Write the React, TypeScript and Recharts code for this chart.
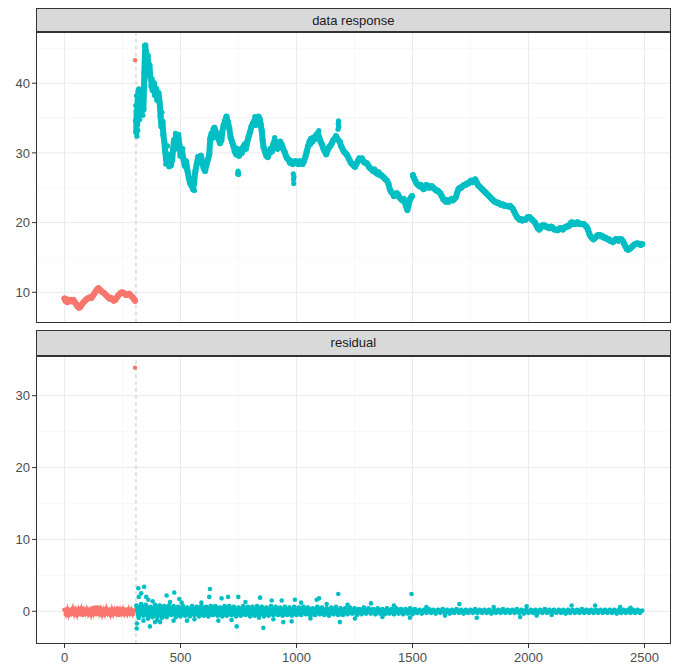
import React from 'react';
import { ComposedChart, Line, Scatter, XAxis, YAxis, ReferenceLine } from 'recharts';

const RED = '#F8766D';
const TEAL = '#00BFC4';

const panelTitles = ['data response', 'residual'];
const xTicks = [0, 500, 1000, 1500, 2000, 2500];
const xMinor = [250, 750, 1250, 1750, 2250];
const xDomain = [-123, 2613];
const topTicks = [10, 20, 30, 40];
const topMinor = [15, 25, 35, 45];
const topDomain = [5.64, 47.3];
const resTicks = [0, 10, 20, 30];
const resMinor = [5, 15, 25, 35];
const resDomain = [-4.55, 35.56];
const changePoint = 308;

// data response, pre-change (red)
const redResponse: [number, number][] = [
  [0, 9.1], [4, 8.8], [8, 9.0], [12, 8.6], [16, 8.9], [20, 8.7], [26, 8.9], [32, 8.7], [38, 8.9], [44, 8.6],
  [50, 8.3], [56, 8.0], [62, 7.8], [68, 7.9], [74, 8.2], [80, 8.5], [86, 8.7], [92, 8.9], [98, 9.1], [104, 9.2],
  [110, 9.3], [116, 9.2], [122, 9.5], [128, 9.8], [134, 10.1], [140, 10.4], [146, 10.6], [152, 10.4], [158, 10.2], [164, 10.0],
  [170, 9.9], [176, 9.7], [182, 9.5], [188, 9.3], [194, 9.1], [200, 9.2], [206, 9.0], [212, 8.8], [218, 8.9], [224, 9.2],
  [230, 9.5], [236, 9.7], [242, 9.9], [248, 10.0], [254, 9.9], [260, 9.8], [266, 9.6], [272, 9.7], [278, 9.8], [284, 9.6],
  [290, 9.4], [296, 9.2], [300, 9.0], [304, 8.8],
];
const redOutlierResponse: [number, number][] = [[304, 43.3]];
const redOutlierResidual: [number, number][] = [[304, 33.9]];

// data response, post-change (teal); null marks the jump at 1500
const tealResponse: [number, number | null][] = [
  [309, 33.0], [311, 36.0], [313, 34.0], [315, 37.5], [317, 35.0], [319, 38.8], [322, 36.5], [325, 38.5], [328, 35.8], [332, 37.0],
  [336, 38.6], [340, 36.2], [344, 41.5], [348, 45.4], [351, 43.8], [355, 42.5], [358, 44.0], [362, 41.8], [366, 42.6], [370, 40.8],
  [375, 40.2], [380, 39.0], [385, 40.0], [390, 38.3], [395, 39.2], [400, 37.6], [405, 38.6], [410, 37.2], [414, 35.2], [418, 33.8],
  [422, 34.5], [426, 32.6], [430, 31.6], [434, 30.2], [438, 29.0], [442, 29.8], [446, 28.4], [452, 29.3], [458, 28.2], [464, 29.0],
  [468, 30.5], [472, 31.8], [476, 30.6], [480, 32.2], [485, 31.0], [490, 32.6], [495, 31.2], [500, 29.6], [506, 30.4], [512, 29.2],
  [518, 28.2], [524, 28.8], [530, 27.4], [536, 26.4], [542, 25.6], [548, 26.2], [554, 24.8], [558, 25.6], [564, 27.4], [570, 28.4],
  [576, 29.4], [582, 28.8], [588, 29.6], [594, 28.6], [600, 27.8], [606, 27.4], [612, 28.4], [618, 29.0], [624, 29.8], [628, 32.0],
  [634, 32.8], [640, 32.2], [646, 33.6], [652, 33.0], [658, 32.4], [664, 32.0], [670, 31.4], [676, 31.8], [680, 33.0], [686, 34.0],
  [692, 34.6], [698, 35.2], [704, 34.4], [710, 33.6], [716, 32.2], [722, 31.6], [728, 31.0], [734, 30.2], [740, 29.8], [744, 30.6],
  [752, 29.6], [758, 30.4], [764, 30.0], [770, 30.8], [776, 31.2], [782, 30.6], [788, 31.6], [794, 32.4], [800, 33.0], [806, 33.8],
  [812, 34.2], [818, 34.6], [824, 34.0], [830, 35.0], [836, 35.2], [842, 34.8], [846, 34.0], [850, 33.2], [854, 31.8], [858, 30.8],
  [864, 30.2], [870, 29.6], [876, 29.4], [882, 30.0], [888, 30.6], [894, 30.2], [900, 31.2], [906, 31.8], [912, 31.0], [918, 30.6],
  [924, 31.2], [930, 31.6], [936, 31.2], [942, 30.6], [948, 30.2], [954, 29.6], [960, 29.2], [966, 29.0], [972, 28.6], [978, 28.8],
  [984, 28.4], [990, 28.6], [996, 28.8], [1002, 28.6], [1008, 28.4], [1014, 28.8], [1020, 28.6], [1026, 28.4], [1032, 28.8], [1038, 29.4],
  [1044, 30.2], [1050, 31.0], [1056, 31.6], [1062, 32.0], [1068, 31.6], [1074, 32.2], [1080, 32.0], [1086, 32.6], [1092, 32.8], [1098, 32.2],
  [1104, 31.6], [1110, 31.2], [1116, 30.6], [1122, 30.2], [1128, 29.8], [1134, 30.4], [1140, 30.8], [1146, 31.0], [1152, 31.4], [1158, 31.8],
  [1164, 32.0], [1170, 32.4], [1176, 32.0], [1186, 31.6], [1192, 31.0], [1198, 30.6], [1204, 30.2], [1210, 30.0], [1216, 29.8], [1222, 29.4],
  [1228, 29.0], [1234, 28.6], [1240, 28.4], [1246, 28.2], [1252, 28.0], [1258, 28.4], [1264, 28.8], [1270, 29.2], [1276, 29.0], [1282, 29.2],
  [1288, 28.8], [1294, 28.6], [1300, 28.6], [1306, 28.4], [1312, 28.0], [1318, 27.8], [1324, 27.6], [1330, 27.4], [1336, 27.6], [1342, 27.2],
  [1348, 27.0], [1354, 27.2], [1360, 26.8], [1366, 26.8], [1372, 26.6], [1378, 26.4], [1384, 26.2], [1390, 26.0], [1396, 25.6], [1402, 24.8],
  [1408, 24.4], [1414, 24.2], [1420, 23.8], [1426, 23.9], [1432, 24.2], [1438, 24.0], [1444, 23.6], [1450, 23.4], [1456, 23.2], [1462, 23.4],
  [1468, 22.8], [1474, 22.2], [1478, 21.8], [1482, 22.4], [1486, 23.0], [1490, 23.4], [1494, 23.6], [1498, 23.8], [1500, null],
  [1502, 26.8], [1506, 26.4], [1512, 26.0], [1518, 25.6], [1524, 25.4], [1530, 25.2], [1536, 25.4], [1542, 25.0], [1548, 24.8], [1554, 25.0],
  [1560, 25.4], [1566, 25.2], [1572, 25.0], [1578, 25.2], [1584, 25.2], [1590, 25.0], [1596, 24.8], [1602, 24.6], [1608, 24.6], [1614, 24.4],
  [1620, 24.2], [1626, 23.8], [1632, 23.4], [1638, 23.2], [1644, 23.0], [1650, 23.2], [1656, 23.0], [1662, 23.2], [1668, 23.4], [1674, 23.2],
  [1680, 23.4], [1686, 23.6], [1692, 24.2], [1698, 24.8], [1704, 25.0], [1710, 25.0], [1716, 25.2], [1722, 25.4], [1728, 25.4], [1734, 25.6],
  [1740, 25.6], [1746, 25.8], [1752, 26.0], [1758, 25.8], [1764, 26.0], [1770, 26.2], [1776, 25.8], [1782, 25.4], [1788, 25.2], [1794, 25.0],
  [1800, 24.8], [1806, 24.6], [1812, 24.4], [1818, 24.2], [1824, 24.0], [1830, 23.8], [1836, 23.6], [1842, 23.4], [1848, 23.2], [1854, 23.0],
  [1860, 23.0], [1866, 22.8], [1872, 22.8], [1878, 22.6], [1884, 22.6], [1890, 22.6], [1896, 22.4], [1902, 22.4], [1908, 22.4], [1914, 22.3],
  [1920, 22.4], [1926, 22.2], [1932, 22.0], [1938, 21.6], [1944, 21.2], [1950, 20.8], [1956, 20.6], [1962, 20.4], [1968, 20.5], [1974, 20.3],
  [1980, 20.4], [1986, 20.4], [1992, 20.6], [1998, 20.8], [2004, 20.8], [2010, 20.6], [2016, 20.4], [2022, 20.2], [2028, 20.0], [2034, 19.6],
  [2040, 19.2], [2046, 19.0], [2052, 19.2], [2058, 19.6], [2064, 19.6], [2070, 19.6], [2076, 19.4], [2082, 19.4], [2088, 19.2], [2094, 19.4],
  [2100, 19.4], [2106, 19.2], [2112, 19.0], [2118, 19.0], [2124, 18.9], [2130, 19.0], [2136, 19.2], [2142, 19.2], [2148, 19.0], [2154, 19.2],
  [2160, 19.4], [2166, 19.4], [2172, 19.6], [2178, 19.6], [2184, 20.0], [2190, 20.0], [2196, 19.8], [2202, 19.8], [2208, 20.0], [2214, 20.0],
  [2220, 19.8], [2226, 19.8], [2232, 19.8], [2238, 19.8], [2244, 19.6], [2250, 19.4], [2256, 19.0], [2262, 18.4], [2268, 18.0], [2274, 17.8],
  [2280, 17.6], [2286, 17.8], [2292, 18.0], [2298, 18.2], [2304, 18.2], [2310, 18.2], [2316, 18.0], [2322, 18.0], [2328, 17.8], [2334, 17.8],
  [2340, 17.6], [2346, 17.6], [2352, 17.4], [2358, 17.4], [2364, 17.2], [2370, 17.4], [2376, 17.6], [2382, 17.6], [2388, 17.4], [2394, 17.6],
  [2400, 17.6], [2406, 17.4], [2412, 17.0], [2418, 16.6], [2424, 16.2], [2430, 16.1], [2436, 16.2], [2442, 16.4], [2448, 16.6], [2454, 16.8],
  [2460, 16.9], [2466, 17.0], [2472, 17.0], [2478, 16.9], [2484, 16.8], [2490, 16.9],
];
// isolated clusters and spread points off the main path
const tealResponseExtra: [number, number][] = [
  [746, 27.0], [748, 27.4], [750, 26.9], [749, 27.2],
  [986, 27.0], [987, 26.2], [988, 25.6], [989, 26.6],
  [1179, 33.4], [1180, 34.2], [1181, 34.6], [1182, 33.8],
  [306, 34.6], [307, 36.8], [310, 38.2], [312, 32.4], [314, 35.6], [316, 33.2], [318, 36.6], [320, 39.2], [324, 34.8],
  [330, 39.0], [334, 36.0], [338, 35.4], [342, 38.0], [346, 43.2], [353, 44.6], [360, 43.2], [368, 41.6], [372, 39.6],
  [378, 40.6], [388, 39.6], [398, 38.2], [408, 38.0], [420, 35.8], [436, 28.4], [444, 31.0], [450, 28.0],
  [478, 32.8], [492, 31.8], [510, 30.6], [520, 28.0], [546, 25.2], [560, 24.6], [640, 33.4], [700, 34.6], [820, 35.2],
  [906, 32.2], [1060, 31.2], [1096, 33.2],
];

// residuals: red sampled every 6 from 0, teal every 10 from 310
const redResidualStart = 0;
const redResidualStep = 6;
const redResidual = [
  0.2, -0.4, 0.3, -0.5, 0.1, -0.3, 0.4, -0.4, 0.2, -0.5,
  0.3, -0.2, 0.4, -0.5, 0.2, -0.3, 0.3, -0.4, 0.1, -0.5,
  0.4, -0.3, 0.5, -0.4, 0.5, -0.3, 0.3, -0.5, 0.2, -0.4,
  0.4, -0.3, 0.1, -0.5, 0.3, -0.4, 0.2, -0.3, 0.4, -0.5,
  0.2, -0.3, 0.3, -0.4, 0.1, -0.4, 0.3, -0.3, 0.2, -0.4,
  0.1,
];
const tealResidualStart = 310;
const tealResidualStep = 10;
const tealResidual = [
  0.8, -0.9, 1.0, -0.6, 0.9, -1.0, 0.6, -0.8, 0.9, -0.7,
  0.8, -0.9, 0.7, -0.8, 0.8, -0.5, 0.7, -0.8, 0.6, -0.7,
  0.7, -0.6, 0.5, -0.7, 0.7, -0.5, 0.6, -0.7, 0.7, -0.6,
  0.6, -0.7, 0.7, -0.5, 0.7, -0.6, 0.5, -0.7, 0.7, -0.6,
  0.7, -0.5, 0.6, -0.7, 0.5, -0.6, 0.7, -0.5, 0.6, -0.7,
  0.6, -0.6, 0.7, -0.5, 0.6, -0.7, 0.5, -0.6, 0.7, -0.5,
  0.6, -0.5, 0.5, -0.6, 0.6, -0.5, 0.5, -0.6, 0.6, -0.5,
  0.5, -0.5, 0.6, -0.4, 0.5, -0.6, 0.4, -0.5, 0.6, -0.4,
  0.5, -0.5, 0.4, -0.6, 0.5, -0.4, 0.6, -0.5, 0.4, -0.5,
  0.4, -0.4, 0.5, -0.3, 0.4, -0.5, 0.3, -0.4, 0.5, -0.3,
  0.4, -0.3, 0.3, -0.4, 0.4, -0.3, 0.3, -0.4, 0.4, -0.3,
  0.3, -0.4, 0.4, -0.3, 0.3, -0.4, 0.3, -0.3, 0.4, -0.4,
  0.3, -0.2, 0.2, -0.3, 0.2, -0.2, 0.3, -0.2, 0.2, -0.3,
  0.2, -0.2, 0.3, -0.2, 0.2, -0.3, 0.2, -0.2, 0.3, -0.2,
  0.2, -0.3, 0.2, -0.2, 0.2, -0.2, 0.3, -0.2, 0.2, -0.2,
  0.2, -0.2, 0.2, -0.3, 0.2, -0.2, 0.2, -0.2, 0.3, -0.2,
  0.2, -0.2, 0.2, -0.2, 0.3, -0.2, 0.2, -0.3, 0.2, -0.2,
  0.2, -0.2, 0.2, -0.2, 0.2, -0.2, 0.3, -0.2, 0.2, -0.2,
  0.2, -0.2, 0.2, -0.2, 0.2, -0.3, 0.2, -0.2, 0.2, -0.2,
  0.2, -0.2, 0.3, -0.2, 0.2, -0.2, 0.2, -0.2, 0.2, -0.2,
  0.2, -0.2, 0.2, -0.2, 0.2, -0.2, 0.2, -0.3, 0.2, -0.2,
  0.2, -0.2, 0.2, -0.2, 0.2, -0.2, 0.2, -0.2, 0.1,
];
const tealResidualScatter: [number, number][] = [
  [318, 3.2], [343, 3.4], [320, 2.0], [330, 2.5], [352, 2.0], [361, 1.6], [311, -2.4], [312, -1.7], [368, -2.1], [340, -1.3],
  [390, -1.5], [440, 2.2], [473, 2.6], [495, 1.7], [412, -1.5], [470, -1.3], [528, -1.3], [627, 3.1], [624, 2.0], [663, -1.3],
  [677, 1.8], [705, 2.0], [742, -2.1], [749, 2.0], [843, 1.9], [857, -2.3], [893, 1.5], [936, 1.5], [943, -1.5], [979, -1.4],
  [993, 1.6], [1087, 1.6], [1097, 1.8], [1180, 2.4], [1187, -1.5], [1252, -1.0], [1321, 1.1], [1496, 2.4], [1489, -0.9], [838, -0.9],
  [1702, 1.0], [1777, -0.9], [1964, -0.8], [1992, 0.7], [2035, -0.6], [2186, 0.8], [2287, 0.8], [2395, 0.6],
  [380, 1.4], [400, -1.2], [455, 1.3], [505, 1.2], [560, -1.1], [590, 1.2], [720, -1.2], [780, 1.3], [900, -1.1], [1020, 1.2],
  [1060, -1.0], [1130, 1.0], [1220, 0.9], [1370, -0.8], [1420, 0.8], [1560, 0.6], [1640, -0.6], [1850, 0.6], [2100, -0.5], [2440, 0.5],
];

const toPts = (arr: [number, number | null][]) => arr.map(([x, y]) => ({ x, y }));
const fromSeries = (start: number, step: number, vals: number[]) => vals.map((y, i) => ({ x: start + i * step, y }));

const FONT = '"Liberation Sans", Arial, sans-serif';
const GRID_MAJOR = '#EBEBEB';
const GRID_MINOR = '#F3F3F3';

const dotShape = (color: string, r: number) => (props: any) =>
  props.cx == null || props.cy == null ? <g /> : <circle cx={props.cx} cy={props.cy} r={r} fill={color} />;

const PLOT_LEFT = 36;
const PLOT_RIGHT = 670.7;

function Strip({ top, height, label }: { top: number; height: number; label: string }) {
  return (
    <div
      style={{
        position: 'absolute', left: PLOT_LEFT, top, width: PLOT_RIGHT - PLOT_LEFT, height,
        background: '#D9D9D9', border: '1px solid #333333', boxSizing: 'border-box',
        display: 'flex', alignItems: 'center', justifyContent: 'center',
        fontFamily: FONT, fontSize: 13, color: '#1A1A1A',
      }}
    >
      {label}
    </div>
  );
}

function Border({ top, height }: { top: number; height: number }) {
  return (
    <div
      style={{
        position: 'absolute', left: PLOT_LEFT, top, width: PLOT_RIGHT - PLOT_LEFT, height,
        border: '1px solid #333333', boxSizing: 'border-box', pointerEvents: 'none',
      }}
    />
  );
}

function gridLines(major: number[], minor: number[], axis: 'x' | 'y') {
  const out: any[] = [];
  minor.forEach((v) =>
    out.push(<ReferenceLine key={axis + 'm' + v} {...{ [axis]: v }} stroke={GRID_MINOR} strokeWidth={0.6} />)
  );
  major.forEach((v) =>
    out.push(<ReferenceLine key={axis + 'M' + v} {...{ [axis]: v }} stroke={GRID_MAJOR} strokeWidth={1} />)
  );
  return out;
}

export default function App() {
  const tick = { fontFamily: FONT, fontSize: 13, fill: '#4D4D4D' };
  return (
    <div style={{ position: 'absolute', left: 0, top: 0, width: 676, height: 666, background: '#fff', overflow: 'hidden' }}>
      <div style={{ position: 'absolute', left: 0, top: 0 }}>
        <ComposedChart width={676} height={330} margin={{ top: 32.3, right: 676 - PLOT_RIGHT, bottom: 7.3, left: 0 }}>
          <XAxis type="number" dataKey="x" domain={xDomain} allowDataOverflow hide ticks={xTicks} />
          <YAxis
            type="number" domain={topDomain} allowDataOverflow ticks={topTicks} width={PLOT_LEFT}
            axisLine={false} tickSize={4} tickMargin={2} tickLine={{ stroke: '#333333' }} tick={tick}
          />
          {gridLines(xTicks, xMinor, 'x')}
          {gridLines(topTicks, topMinor, 'y')}
          <ReferenceLine x={changePoint} stroke="#C8C8C8" strokeDasharray="4 3" strokeWidth={1} />
          <Line
            data={toPts(redResponse)} dataKey="y" stroke={RED} strokeWidth={6} strokeLinejoin="round" strokeLinecap="round"
            dot={dotShape(RED, 3)} isAnimationActive={false} connectNulls={false}
          />
          <Line
            data={toPts(tealResponse)} dataKey="y" stroke={TEAL} strokeWidth={6} strokeLinejoin="round" strokeLinecap="round"
            dot={dotShape(TEAL, 3)} isAnimationActive={false} connectNulls={false}
          />
          <Scatter data={toPts(tealResponseExtra)} dataKey="y" shape={dotShape(TEAL, 2.6)} isAnimationActive={false} />
          <Scatter data={toPts(redOutlierResponse)} dataKey="y" shape={dotShape(RED, 2.2)} isAnimationActive={false} />
        </ComposedChart>
      </div>
      <div style={{ position: 'absolute', left: 0, top: 330 }}>
        <ComposedChart width={676} height={336} margin={{ top: 25.7, right: 676 - PLOT_RIGHT, bottom: 0, left: 0 }}>
          <XAxis
            type="number" dataKey="x" domain={xDomain} allowDataOverflow ticks={xTicks} height={22}
            axisLine={false} tickSize={4} tickMargin={5} tickLine={{ stroke: '#333333' }} tick={tick}
          />
          <YAxis
            type="number" domain={resDomain} allowDataOverflow ticks={resTicks} width={PLOT_LEFT}
            axisLine={false} tickSize={4} tickMargin={2} tickLine={{ stroke: '#333333' }} tick={tick}
          />
          {gridLines(xTicks, xMinor, 'x')}
          {gridLines(resTicks, resMinor, 'y')}
          <ReferenceLine x={changePoint} stroke="#C8C8C8" strokeDasharray="4 3" strokeWidth={1} />
          <Scatter
            data={fromSeries(redResidualStart, redResidualStep, redResidual)} dataKey="y"
            line={{ stroke: RED, strokeWidth: 3 }} lineType="joint"
            shape={dotShape(RED, 2.4)} isAnimationActive={false}
          />
          <Scatter
            data={fromSeries(tealResidualStart, tealResidualStep, tealResidual)} dataKey="y"
            line={{ stroke: TEAL, strokeWidth: 4.2, strokeLinejoin: 'round' }} lineType="joint"
            shape={dotShape(TEAL, 2.4)} isAnimationActive={false}
          />
          <Scatter data={toPts(tealResidualScatter)} dataKey="y" shape={dotShape(TEAL, 2.3)} isAnimationActive={false} />
          <Scatter data={toPts(redOutlierResidual)} dataKey="y" shape={dotShape(RED, 2.2)} isAnimationActive={false} />
        </ComposedChart>
      </div>
      <Strip top={8} height={24.3} label={panelTitles[0]} />
      <Border top={32.3} height={290.4} />
      <Strip top={330} height={25.7} label={panelTitles[1]} />
      <Border top={355.7} height={288.3} />
    </div>
  );
}
